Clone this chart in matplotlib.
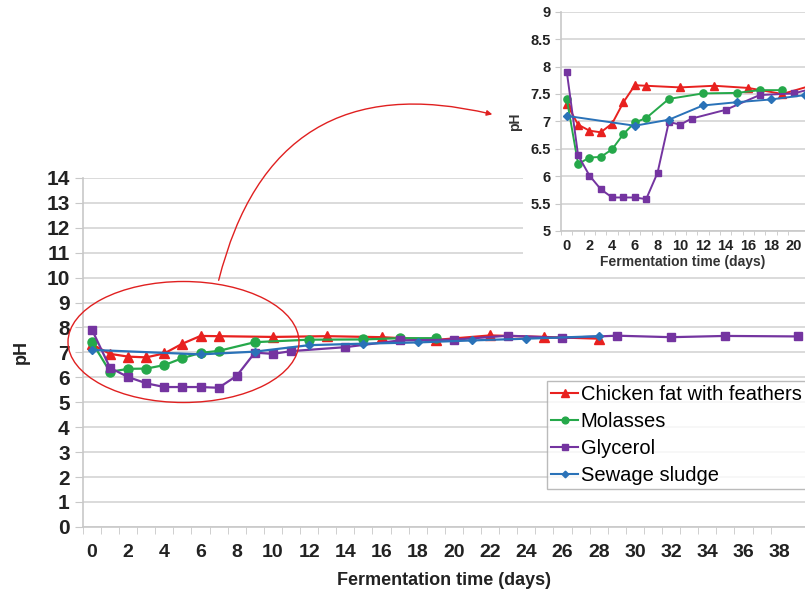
import numpy as np
import matplotlib.pyplot as plt
from matplotlib.patches import Ellipse, FancyArrowPatch, Rectangle

plt.rcParams['font.family'] = ['Liberation Sans', 'DejaVu Sans']

# pH readings per substrate (day, pH)
chicken_days = [0, 1, 2, 3, 4, 5, 6, 7, 10, 13, 16, 19, 22, 25, 28]
chicken_ph = [7.32, 6.94, 6.83, 6.80, 6.96, 7.35, 7.66, 7.65, 7.62, 7.65,
              7.61, 7.50, 7.68, 7.62, 7.55]

molasses_days = [0, 1, 2, 3, 4, 5, 6, 7, 9, 12, 15, 17, 19]
molasses_ph = [7.41, 6.22, 6.34, 6.35, 6.49, 6.77, 6.98, 7.06, 7.41, 7.51,
               7.52, 7.57, 7.57]

glycerol_days = [0, 1, 2, 3, 4, 5, 6, 7, 8, 9, 10, 11, 14, 17, 20, 23, 26,
                 29, 32, 35, 39]
glycerol_ph = [7.91, 6.38, 6.01, 5.76, 5.61, 5.61, 5.61, 5.58, 6.06, 6.99,
               6.94, 7.05, 7.21, 7.48, 7.51, 7.67, 7.58, 7.67, 7.61, 7.66, 7.64]

sludge_days = [0, 6, 9, 12, 15, 18, 21, 24, 28]
sludge_ph = [7.10, 6.92, 7.03, 7.29, 7.35, 7.40, 7.48, 7.55, 7.65]

series = [
    ('Chicken fat with feathers', chicken_days, chicken_ph, '#e8211f', '^', 7),
    ('Molasses', molasses_days, molasses_ph, '#25a84a', 'o', 6.5),
    ('Glycerol', glycerol_days, glycerol_ph, '#7434a0', 's', 6),
    ('Sewage sludge', sludge_days, sludge_ph, '#2a72b8', 'D', 4.5),
]

grid_c = '#d4d4d4'
spine_c = '#c8c8c8'


def style_axis(ax, xmax, tick_size, ylab_size):
    for s in ['top', 'right']:
        ax.spines[s].set_visible(False)
    for s in ['left', 'bottom']:
        ax.spines[s].set_color(spine_c)
        ax.spines[s].set_linewidth(1.2)
    ax.set_xticks(np.arange(0, xmax + 0.1, 2))
    ax.set_xticks(np.arange(-0.5, xmax + 0.5, 1), minor=True)
    ax.tick_params(axis='x', which='major', length=0, pad=12,
                   labelsize=tick_size)
    ax.tick_params(axis='x', which='minor', length=5, color=spine_c,
                   direction='out')
    ax.tick_params(axis='y', length=6, color=spine_c, labelsize=ylab_size)
    ax.grid(axis='y', color=grid_c, linewidth=1.2)
    ax.set_axisbelow(True)
    for lab in ax.get_xticklabels() + ax.get_yticklabels():
        lab.set_fontweight('bold')
        lab.set_color('#222222')


fig = plt.figure(figsize=(8.05, 5.92), dpi=100)

# main chart
ax = fig.add_axes([0.103, 0.110, 0.897, 0.5895])
for name, d, p, c, m, ms in series:
    ax.plot(d, p, color=c, marker=m, markersize=ms, linewidth=1.6,
            label=name, markeredgecolor=c)
ax.set_xlim(-0.5, 39.4)
ax.set_ylim(0, 14)
ax.set_yticks(np.arange(0, 15, 1))
style_axis(ax, 38, 14, 15)
ax.set_xlabel('Fermentation time (days)', fontsize=13, fontweight='bold',
              color='#222222', labelpad=8)
ax.set_ylabel('pH', fontsize=13, fontweight='bold', color='#222222',
              labelpad=12)
leg = ax.legend(loc='upper left', bbox_to_anchor=(0.680, 0.356),
                bbox_transform=fig.transFigure, fontsize=14.5, frameon=True,
                fancybox=False, edgecolor='#aaaaaa', handlelength=1.3,
                handletextpad=0.15, borderpad=0.2, labelspacing=0.4,
                borderaxespad=0)
leg.get_frame().set_linewidth(1.0)
for h, s in zip(leg.legend_handles, series):
    h.set_markersize(s[5] * 0.75)
    h.set_linewidth(1.5)

# white area behind the inset
fig.patches.append(Rectangle((523 / 805, 1 - 268 / 592), 1, 1,
                             transform=fig.transFigure, facecolor='white',
                             edgecolor='none', zorder=0.5))

# inset zoom on first days
ins = fig.add_axes([0.697, 0.610, 0.303, 0.370], zorder=2)
for name, d, p, c, m, ms in series:
    ins.plot(d, p, color=c, marker=m, markersize=ms * 0.8, linewidth=1.4,
             markeredgecolor=c)
ins.set_xlim(-0.5, 21.0)
ins.set_ylim(5, 9)
ins.set_yticks(np.arange(5, 9.01, 0.5))
ins.set_yticklabels(['5', '5.5', '6', '6.5', '7', '7.5', '8', '8.5', '9'])
style_axis(ins, 20, 10.5, 10.5)
ins.tick_params(axis='x', which='major', pad=6)
ins.tick_params(axis='x', which='minor', length=3)
ins.tick_params(axis='y', length=4)
ins.set_xlabel('Fermentation time (days)', fontsize=10, fontweight='bold',
               color='#333333', labelpad=1)
ins.set_ylabel('pH', fontsize=10, fontweight='bold', color='#333333',
               labelpad=6)

# ellipse and arrow pointing to the inset
fig.patches.append(Ellipse((183.5 / 805, 1 - 342 / 592), 231 / 805,
                           121 / 592, transform=fig.transFigure,
                           facecolor='none', edgecolor='#e02020',
                           linewidth=1.0, zorder=3))
fig.patches.append(FancyArrowPatch((218 / 805, 1 - 283 / 592),
                                   (495 / 805, 1 - 115 / 592),
                                   transform=fig.transFigure,
                                   connectionstyle='arc3,rad=-0.5',
                                   arrowstyle='-|>', mutation_scale=8,
                                   color='#e02020', linewidth=1.0, zorder=3))

fig.savefig('out.png', dpi=100)
